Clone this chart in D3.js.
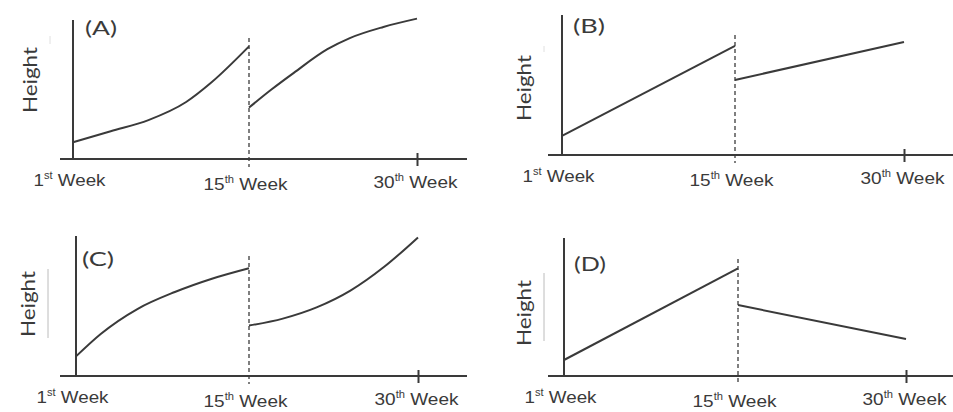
<!DOCTYPE html>
<html>
<head>
<meta charset="utf-8">
<script src="https://cdn.jsdelivr.net/npm/d3@7"></script>
<style>
  body { margin: 0; background: #fff; }
  svg { display: block; font-family: Lato, "Open Sans", sans-serif; }
</style>
</head>
<body>
<svg width="953" height="412"></svg>
<script>
// ---------------------------------------------------------------
// Data (height in arbitrary units, 0-100)
// ---------------------------------------------------------------
const tickWeeks    = [1, 15, 30];
const tickNumbers  = ["1", "15", "30"];
const tickSuffixes = ["st", "th", "th"];
const tickWord     = "Week";
const yLabel       = "Height";
const panelNames   = ["(A)", "(B)", "(C)", "(D)"];
const splitWeek    = 15;

const weeksA1 = [1, 4, 7, 10, 12, 15],        heightA1 = [12, 20, 28, 41, 55, 81];
const weeksA2 = [15, 17, 19, 22, 24, 27, 30], heightA2 = [37, 50, 62, 79, 87, 95, 101];
const weeksB1 = [1, 15],                      heightB1 = [13.6, 78];
const weeksB2 = [15, 30],                     heightB2 = [53.6, 80.7];
const weeksC1 = [1, 3, 6, 9, 12, 15],         heightC1 = [14, 30, 48, 60, 69.5, 77];
const weeksC2 = [15, 18, 21, 24, 27, 30],     heightC2 = [36, 41, 49, 61, 78, 99];
const weeksD1 = [1, 15],                      heightD1 = [11.6, 78];
const weeksD2 = [15, 30],                     heightD2 = [51.4, 26.8];

const series = [
  [[weeksA1, heightA1], [weeksA2, heightA2]],
  [[weeksB1, heightB1], [weeksB2, heightB2]],
  [[weeksC1, heightC1], [weeksC2, heightC2]],
  [[weeksD1, heightD1], [weeksD2, heightD2]]
];

// ---------------------------------------------------------------
// Where each little panel sits in the picture
// ---------------------------------------------------------------
const layout = [
  {xs: [73, 249, 417],  base: 159, top: 20,  axisL: 60,  axisR: 467, dashTop: 38,
   nameX: 85,  nameY: 35,  hx: 30,  hy: 80,  arrow: [36, 44],   arrowOp: 0.25},
  {xs: [562, 735, 904], base: 155, top: 15,  axisL: 548, axisR: 953, dashTop: 35,
   nameX: 573, nameY: 33,  hx: 524, hy: 88,  arrow: [46, 52],   arrowOp: 0.25},
  {xs: [76, 249, 418],  base: 376, top: 236, axisL: 60,  axisR: 467, dashTop: 256,
   nameX: 82,  nameY: 266, hx: 28,  hy: 304, arrow: [269, 338], arrowOp: 0.55},
  {xs: [564, 738, 906], base: 376, top: 238, axisL: 548, axisR: 953, dashTop: 259,
   nameX: 574, nameY: 271, hx: 524, hy: 313, arrow: [273, 341], arrowOp: 0.55}
];

const labelDx  = [-4, -4, -2],
      labelDy  = [27, 31, 29],
      labelLen = [72, 84, 84],
      ink      = "#3a3a3a";

let svg = d3.select("svg");

layout.forEach((p, i) => drawPanel(svg.append("g"), p, series[i], panelNames[i]));

function drawPanel(g, p, segs, name) {
  let x = d3.scaleLinear().domain(tickWeeks).range(p.xs),
      y = d3.scaleLinear().domain([0, 100]).range([p.base, p.top]),
      line = d3.line()
               .x(d => x(d[0]))
               .y(d => y(d[1]))
               .curve(d3.curveMonotoneX);

  // faint height arrow next to the label
  g.append("line")
    .attr("x1", p.hx + 20).attr("x2", p.hx + 20)
    .attr("y1", p.arrow[0]).attr("y2", p.arrow[1])
    .attr("stroke", "#888").attr("stroke-width", 1)
    .attr("opacity", p.arrowOp);

  // dashed split line at week 15
  g.append("line")
    .attr("x1", x(splitWeek)).attr("x2", x(splitWeek))
    .attr("y1", p.dashTop).attr("y2", p.base + 8)
    .attr("stroke", "#555").attr("stroke-width", 1.5)
    .attr("stroke-dasharray", "4,3");

  // x axis: labels through d3.axisBottom, line drawn across the panel
  let axis = g.append("g")
    .attr("transform", `translate(0,${p.base})`)
    .call(d3.axisBottom(x).tickValues(tickWeeks).tickSize(0).tickFormat(""));
  axis.select(".domain").remove();
  axis.append("line")
    .attr("x1", p.axisL).attr("x2", p.axisR)
    .attr("stroke", ink).attr("stroke-width", 2);
  axis.selectAll(".tick line").remove();
  axis.selectAll(".tick").filter(d => d === 30)
    .append("line")
      .attr("y1", -6).attr("y2", 7)
      .attr("stroke", ink).attr("stroke-width", 2);
  axis.selectAll(".tick text").each(function(d, i) {
    let t = d3.select(this)
      .attr("dy", null)
      .attr("x", labelDx[i])
      .attr("y", labelDy[i])
      .attr("fill", ink)
      .style("font-size", "17px")
      .attr("text-anchor", "middle")
      .attr("textLength", labelLen[i])
      .attr("lengthAdjust", "spacingAndGlyphs");
    t.append("tspan").text(tickNumbers[i]);
    t.append("tspan").attr("dy", -7).style("font-size", "10px").text(tickSuffixes[i]);
    t.append("tspan").attr("dy", 7).text(" " + tickWord);
  });

  // y axis
  g.append("line")
    .attr("x1", p.xs[0]).attr("x2", p.xs[0])
    .attr("y1", p.top).attr("y2", p.base)
    .attr("stroke", ink).attr("stroke-width", 2);

  // the two growth segments
  segs.forEach(s => {
    g.append("path")
      .datum(d3.zip(s[0], s[1]))
      .attr("d", line)
      .attr("fill", "none")
      .attr("stroke", ink)
      .attr("stroke-width", 2);
  });

  g.append("text")
    .attr("x", p.nameX).attr("y", p.nameY)
    .attr("fill", ink)
    .style("font-size", "20px")
    .attr("textLength", 32)
    .attr("lengthAdjust", "spacingAndGlyphs")
    .text(name);

  g.append("text")
    .attr("transform", `translate(${p.hx},${p.hy}) rotate(-90)`)
    .attr("text-anchor", "middle")
    .attr("dy", "0.35em")
    .attr("fill", ink)
    .style("font-size", "19px")
    .attr("textLength", 66)
    .attr("lengthAdjust", "spacingAndGlyphs")
    .text(yLabel);
}
</script>
</body>
</html>
